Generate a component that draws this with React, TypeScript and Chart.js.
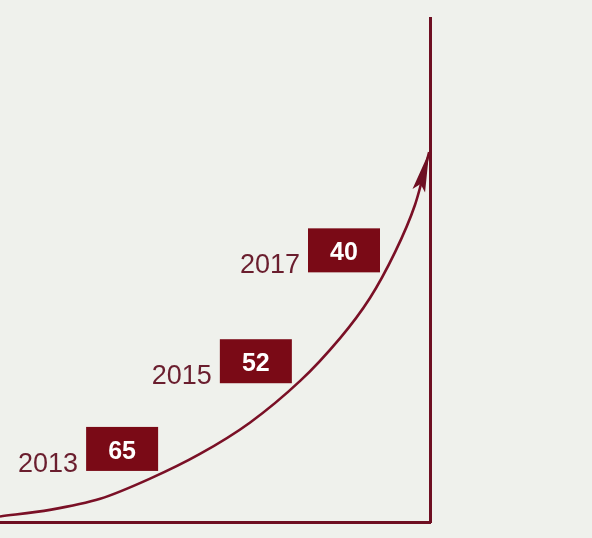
import React, { useEffect, useRef } from "react";
import { Chart, registerables } from "chart.js";

Chart.register(...registerables);

// Curve (x: progress 0-100 across the frame, y: 0-100 up the frame)
const curveX = [0, 11.6, 23.3, 34.9, 46.5, 58.1, 69.8, 79.1, 86.0, 91.9, 96.5, 99.8];
const curveY = [1.1, 2.4, 4.6, 8.6, 13.5, 19.7, 28.0, 36.5, 44.4, 53.6, 62.9, 73.4];

// Labels
const years = ["2013", "2015", "2017"];
const values = [65, 52, 40];
const labelX = [28.4, 59.5, 80.0];
const labelY = [14.5, 31.9, 53.9];

const DARK = "#6e0f22";
const BOX = "#7a0a16";
const YEAR = "#6a1e2e";

const annotPlugin = {
  id: "annot",
  afterDatasetsDraw(chart: any) {
    const ctx: CanvasRenderingContext2D = chart.ctx;
    const meta = chart.getDatasetMeta(0);
    const pts = meta.data;
    const p: any = pts[pts.length - 1];
    const prev: any = pts[pts.length - 2];
    const fx = p.cp1x ?? prev.x;
    const fy = p.cp1y ?? prev.y;
    const dx = p.x - fx;
    const dy = p.y - fy;
    const len = Math.hypot(dx, dy) || 1;
    const ux = dx / len;
    const uy = dy / len;
    const L = 40;
    const W = 6.5;
    const N = 7;
    const bx = p.x - ux * L;
    const by = p.y - uy * L;
    const nx = -uy;
    const ny = ux;
    ctx.save();
    ctx.fillStyle = DARK;
    ctx.beginPath();
    ctx.moveTo(p.x, p.y);
    ctx.lineTo(bx + nx * W, by + ny * W);
    ctx.lineTo(p.x - ux * (L - N), p.y - uy * (L - N));
    ctx.lineTo(bx - nx * W, by - ny * W);
    ctx.closePath();
    ctx.fill();

    const lm = chart.getDatasetMeta(1);
    lm.data.forEach((el: any, i: number) => {
      const bw = 72;
      const bh = 44;
      ctx.fillStyle = BOX;
      ctx.fillRect(el.x - bw / 2, el.y - bh / 2, bw, bh);
      ctx.fillStyle = "#ffffff";
      ctx.font = "bold 25px 'Liberation Sans', Arial, sans-serif";
      ctx.textAlign = "center";
      ctx.textBaseline = "alphabetic";
      ctx.fillText(String(values[i]), el.x, el.y + 10);
      ctx.fillStyle = YEAR;
      ctx.font = "27px 'Liberation Sans', Arial, sans-serif";
      ctx.textAlign = "right";
      ctx.fillText(years[i], el.x - bw / 2 - 8, el.y + 23);
    });
    ctx.restore();
  },
};

export default function App() {
  const ref = useRef<HTMLCanvasElement | null>(null);
  useEffect(() => {
    if (!ref.current) return;
    const chart = new Chart(ref.current, {
      type: "line",
      data: {
        datasets: [
          {
            data: curveX.map((x, i) => ({ x, y: curveY[i] })),
            borderColor: "#7a1026",
            borderWidth: 2.6,
            pointRadius: 0,
            tension: 0.3,
            fill: false,
            clip: false as any,
          },
          {
            data: labelX.map((x, i) => ({ x, y: labelY[i] })),
            showLine: false,
            pointRadius: 0,
            borderWidth: 0,
          },
        ],
      },
      options: {
        animation: false,
        responsive: false,
        layout: { padding: { left: 0, top: 18, right: 162, bottom: 16 } },
        plugins: { legend: { display: false }, tooltip: { enabled: false } },
        events: [],
        scales: {
          x: {
            type: "linear",
            min: 0,
            max: 100,
            position: "bottom",
            grid: { display: false, drawTicks: false, tickLength: 0 },
            ticks: { display: false },
            border: { display: true, color: DARK, width: 3 },
          },
          y: {
            type: "linear",
            min: 0,
            max: 100,
            position: "right",
            grid: { display: false, drawTicks: false, tickLength: 0 },
            ticks: { display: false },
            border: { display: true, color: DARK, width: 3 },
          },
        },
      },
      plugins: [annotPlugin],
    });
    return () => chart.destroy();
  }, []);
  return (
    <div
      style={{
        position: "absolute",
        left: 0,
        top: 0,
        width: 592,
        height: 538,
        background: "#eff1ec",
      }}
    >
      <canvas ref={ref} width={592} height={538} style={{ display: "block" }} />
    </div>
  );
}
